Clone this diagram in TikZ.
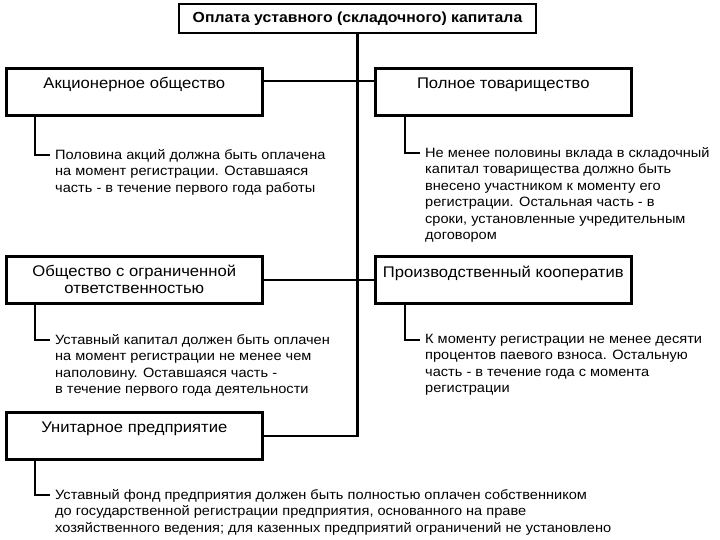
\documentclass[tikz,border=0pt]{standalone}
\usepackage{fontspec}
\setmainfont{Liberation Sans}[FakeStretch=1.08]
\usetikzlibrary{positioning}
\tikzset{
  head/.style={draw, line width=2.6pt, minimum width=357pt, minimum height=29pt,
    inner sep=2pt, font=\fontsize{14.6}{16}\selectfont\bfseries},
  kind/.style={draw, line width=2.6pt, minimum width=256pt, minimum height=47pt,
    align=center, anchor=north west, inner sep=2pt, font=\fontsize{15.4}{17}\selectfont},
  note/.style={align=left, anchor=north west, inner sep=0pt,
    font=\fontsize{13.5}{16.5}\selectfont},
  link/.style={line width=2.4pt}
}
\begin{document}
\begin{tikzpicture}[x=1pt, y=-1pt]
  \useasboundingbox (0,0) rectangle (720,540);
  \node[head] (pay) at (357.5,18.5) {Оплата уставного (складочного) капитала};

  \node[kind] (ao) at (5,67) {Акционерное общество\\~};
  \node[kind] (pt) at (374,67) {Полное товарищество\\~};
  \node[kind] (ooo) at (5,255) {Общество с ограниченной\\ответственностью};
  \node[kind] (pk) at (374,255) {Производственный кооператив\\~};
  \node[kind] (up) at (5,411) {Унитарное предприятие\\~};

  % notes under each form
  \node[note] (aonote) at (55,149) {Половина акций должна быть оплачена\\на момент регистрации. Оставшаяся\\часть - в течение первого года работы};
  \node[note] (ptnote) at (425,147) {Не менее половины вклада в складочный\\капитал товарищества должно быть\\внесено участником к моменту его\\регистрации. Остальная часть - в\\сроки, установленные учредительным\\договором};
  \node[note] (ooonote) at (55,334) {Уставный капитал должен быть оплачен\\на момент регистрации не менее чем\\наполовину. Оставшаяся часть -\\в течение первого года деятельности};
  \node[note] (pknote) at (425,334) {К моменту регистрации не менее десяти\\процентов паевого взноса. Остальную\\часть - в течение года с момента\\регистрации};
  \node[note] (upnote) at (55,489) {Уставный фонд предприятия  должен быть полностью оплачен собственником\\до государственной регистрации предприятия, основанного на праве\\хозяйственного ведения; для казенных предприятий ограничений не установлено};

  \draw[link] (pay.south) |- (up.east);
  \draw[link] ([yshift=-14pt]ao.north east) -- ([yshift=-14pt]pt.north west);
  \draw[link] (ooo.east) -- (pk.west);

  \draw[link] ([xshift=30pt]ao.south west) |- ([xshift=-5pt,yshift=-6pt]aonote.north west);
  \draw[link] ([xshift=31pt]pt.south west) |- ([xshift=-5pt,yshift=-6pt]ptnote.north west);
  \draw[link] ([xshift=30pt]ooo.south west) |- ([xshift=-5pt,yshift=-6pt]ooonote.north west);
  \draw[link] ([xshift=31pt]pk.south west) |- ([xshift=-5pt,yshift=-6pt]pknote.north west);
  \draw[link] ([xshift=30pt]up.south west) |- ([xshift=-5pt,yshift=-6pt]upnote.north west);
\end{tikzpicture}
\end{document}
